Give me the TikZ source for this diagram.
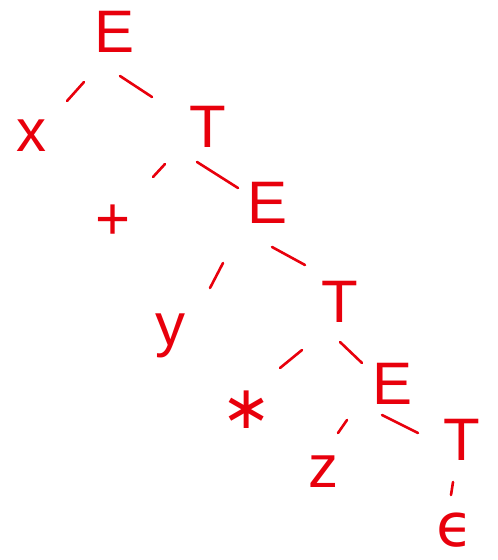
\documentclass[tikz,border=0pt]{standalone}
\usepackage{fontspec}
\setmainfont{Liberation Sans}
\newfontfamily\symfont{DejaVu Sans}
\definecolor{ink}{RGB}{232,0,12}
\begin{document}
\begin{tikzpicture}[x=0.5pt,y=-0.5pt,
  sym/.style={text=ink,inner sep=0pt,font=\fontsize{30}{30}\selectfont},
  edge/.style={draw=ink,line width=1.3pt,line cap=round}]
\useasboundingbox (0,0) rectangle (497,560);
% symbols
\node[sym] (E1) at (115,32) {E};
\node[sym] (x) at (32,136) {x};
\node[sym] (T1) at (208,127) {T};
\node[sym] (plus) at (113,222) {+};
\node[sym] (E2) at (268,203) {E};
\node[sym] (y) at (170,336) {y};
\node[sym] (T2) at (340,302) {T};
\node[sym] (ast) at (247,410) {\symfont ∗};
\node[sym] (E3) at (392,384) {E};
\node[sym] (z) at (323,472) {z};
\node[sym] (T3) at (462,440) {T};
\node[sym] (eps) at (455,530) {\symfont ϵ};
% connector ends
\coordinate (a1) at (84,82);  \coordinate (b1) at (67,101);
\coordinate (a2) at (120,76); \coordinate (b2) at (152,97);
\coordinate (a3) at (165,164); \coordinate (b3) at (153,177);
\coordinate (a4) at (197,162); \coordinate (b4) at (238,188);
\coordinate (a5) at (223,263); \coordinate (b5) at (210,288);
\coordinate (a6) at (272,247); \coordinate (b6) at (305,265);
\coordinate (a7) at (302,350); \coordinate (b7) at (280,368);
\coordinate (a8) at (340,342); \coordinate (b8) at (362,363);
\coordinate (a9) at (347,420); \coordinate (b9) at (338,433);
\coordinate (a10) at (382,415); \coordinate (b10) at (418,433);
\coordinate (a11) at (453,482); \coordinate (b11) at (451,495);
\foreach \i in {1,...,11} \draw[edge] (a\i) -- (b\i);
\end{tikzpicture}
\end{document}
